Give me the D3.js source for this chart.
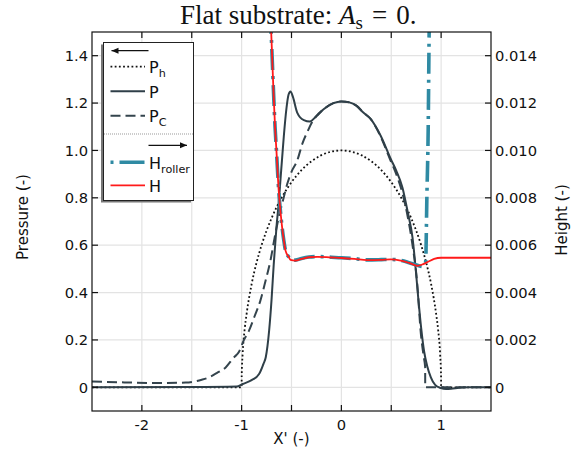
<!DOCTYPE html>
<html>
<head>
<meta charset="utf-8">
<script src="https://cdn.jsdelivr.net/npm/d3@7"></script>
<style>
  body { margin: 0; background: #fff; }
  svg { display: block; }
  text { font-family: "DejaVu Sans", sans-serif; }
</style>
</head>
<body>
<div id="chart"></div>
<script>
// ----- data -----

// P_h (dotted, hertzian pressure)
const phX = [-2.5, -1.0, -0.9995, -0.99, -0.97, -0.95, -0.9, -0.85, -0.8, -0.7, -0.6, -0.5, -0.4, -0.3, -0.2, -0.1, 0,
  0.1, 0.2, 0.3, 0.4, 0.5, 0.6, 0.7, 0.8, 0.85, 0.9, 0.95, 0.97, 0.99, 0.9995, 1.0, 1.5]
const phY = [0, 0, 0.045, 0.14, 0.243, 0.31, 0.435, 0.527, 0.6, 0.714, 0.8, 0.866, 0.917, 0.954, 0.98, 0.995, 1.0,
  0.995, 0.98, 0.954, 0.917, 0.866, 0.8, 0.714, 0.6, 0.527, 0.435, 0.31, 0.243, 0.14, 0.045, 0, 0]

// P (solid)
const pX = [-2.5, -1.5, -1.05, -0.99, -0.9, -0.825, -0.78, -0.758, -0.724, -0.7, -0.678, -0.65, -0.628, -0.61, -0.59,
  -0.577, -0.55, -0.53, -0.51, -0.485, -0.443, -0.376, -0.316, -0.25, -0.175, -0.08, 0, 0.08, 0.15, 0.22, 0.293,
  0.394, 0.495, 0.55, 0.612, 0.665, 0.713, 0.745, 0.77, 0.8, 0.83, 0.86, 0.897, 0.94, 0.997, 1.05, 1.1, 1.18, 1.27, 1.5]
const pY = [0, 0.001, 0.003, 0.014, 0.03, 0.056, 0.1, 0.127, 0.24, 0.37, 0.52, 0.68, 0.78, 0.88, 0.99,
  1.06, 1.18, 1.235, 1.249, 1.225, 1.16, 1.128, 1.122, 1.145, 1.175, 1.2, 1.207, 1.203, 1.189, 1.16, 1.133,
  1.062, 0.964, 0.915, 0.844, 0.74, 0.633, 0.5, 0.38, 0.25, 0.15, 0.09, 0.042, 0.01, -0.003, -0.007, -0.006, -0.002, 0, 0]

// P_C (dashed)
const pcX = [-2.5, -2.2, -1.8, -1.56, -1.4, -1.327, -1.25, -1.16, -1.08, -1.026, -0.98, -0.925, -0.87, -0.812, -0.76,
  -0.711, -0.67, -0.628, -0.585, -0.543, -0.5, -0.443, -0.39, -0.336, -0.3, -0.25, -0.175, -0.08, 0, 0.08, 0.15,
  0.22, 0.293, 0.394, 0.495, 0.55, 0.612, 0.665, 0.713, 0.76, 0.797, 0.825, 0.84, 0.8405, 1.0, 1.5]
const pcY = [0.025, 0.021, 0.018, 0.02, 0.032, 0.042, 0.06, 0.084, 0.125, 0.15, 0.197, 0.24, 0.3, 0.366, 0.45,
  0.535, 0.63, 0.717, 0.79, 0.858, 0.91, 0.957, 1.03, 1.083, 1.115, 1.145, 1.175, 1.2, 1.207, 1.203, 1.189,
  1.16, 1.133, 1.058, 0.955, 0.9, 0.82, 0.72, 0.6, 0.44, 0.225, 0.13, 0.085, 0, 0, 0]

// H (red, right axis)
const hX = [-0.715, -0.704, -0.69, -0.678, -0.665, -0.651, -0.628, -0.61, -0.594, -0.577, -0.56, -0.527, -0.51, -0.46,
  -0.4, -0.326, -0.242, -0.1, 0, 0.13, 0.26, 0.4, 0.495, 0.595, 0.68, 0.763, 0.82, 0.87, 0.93, 1.0, 1.5]
const hY = [0.0158, 0.01505, 0.0135, 0.01224, 0.011, 0.00999, 0.0083, 0.0074, 0.00675, 0.0062, 0.00577, 0.0055, 0.00538, 0.00535,
  0.00542, 0.00549, 0.00551, 0.00548, 0.00546, 0.00542, 0.00537, 0.00538, 0.0054, 0.00535, 0.00525, 0.00513, 0.0052, 0.0053, 0.00542, 0.00547, 0.00547]

// H_roller (teal dash-dot, right axis)
const hrX = [-0.716, -0.705, -0.69, -0.678, -0.665, -0.651, -0.628, -0.61, -0.594, -0.577, -0.56, -0.527, -0.51, -0.46,
  -0.4, -0.326, -0.242, -0.1, 0, 0.13, 0.26, 0.4, 0.495, 0.595, 0.68, 0.763, 0.82, 0.845, 0.857, 0.87, 0.88, 0.89]
const hrY = [0.0158, 0.01505, 0.0135, 0.01224, 0.011, 0.00999, 0.0083, 0.0074, 0.00675, 0.0062, 0.00577, 0.0055, 0.0054, 0.00537,
  0.00544, 0.0055, 0.00552, 0.00549, 0.00547, 0.00543, 0.00538, 0.00539, 0.0054, 0.00536, 0.00526, 0.00515, 0.0051, 0.0053, 0.008, 0.0108, 0.015, 0.0175]

// ticks
const xTicks = [-2, -1, 0, 1]
const xMinor = [-2.5, -2, -1.5, -1, -0.5, 0, 0.5, 1, 1.5]
const pTicks = [0, 0.2, 0.4, 0.6, 0.8, 1.0, 1.2, 1.4]
const pTickLabels = ['0', '0.2', '0.4', '0.6', '0.8', '1.0', '1.2', '1.4']
const hTicks = [0, 0.002, 0.004, 0.006, 0.008, 0.010, 0.012, 0.014]
const hTickLabels = ['0', '0.002', '0.004', '0.006', '0.008', '0.010', '0.012', '0.014']

// ----- layout -----
const width = 576
const height = 452
const plot = { left: 92, right: 491, top: 32, bottom: 411 }

const xScale = d3.scaleLinear().domain([-2.5, 1.5]).range([plot.left, plot.right])
const yScale = d3.scaleLinear().domain([-0.1, 1.5]).range([plot.bottom, plot.top])
const hScale = d3.scaleLinear().domain([-0.001, 0.015]).range([plot.bottom, plot.top])

const svg = d3.select('#chart').append('svg').attr('width', width).attr('height', height)

svg.append('defs').append('clipPath').attr('id', 'clip')
  .append('rect')
  .attr('x', plot.left).attr('y', plot.top)
  .attr('width', plot.right - plot.left).attr('height', plot.bottom - plot.top)

// grid
const grid = svg.append('g').attr('class', 'grid')
grid.selectAll('.vg').data(xMinor.slice(1, -1)).enter().append('line')
  .attr('x1', d => xScale(d)).attr('x2', d => xScale(d))
  .attr('y1', plot.top).attr('y2', plot.bottom)
  .attr('stroke', '#e3e3e3').attr('stroke-width', 1.2)
grid.selectAll('.hg').data(pTicks).enter().append('line')
  .attr('x1', plot.left).attr('x2', plot.right)
  .attr('y1', d => yScale(d)).attr('y2', d => yScale(d))
  .attr('stroke', '#e3e3e3').attr('stroke-width', 1.2)

// curves
const zip = (xs, ys) => xs.map((x, i) => [x, ys[i]])
const curve = d3.curveMonotoneX
const lineP = d3.line().x(d => xScale(d[0])).y(d => yScale(d[1])).curve(curve)
const lineH = d3.line().x(d => xScale(d[0])).y(d => hScale(d[1])).curve(curve)

const plotG = svg.append('g').attr('clip-path', 'url(#clip)')

plotG.append('path').attr('d', lineP(zip(phX, phY)))
  .attr('fill', 'none').attr('stroke', '#111').attr('stroke-width', 1.8)
  .attr('stroke-dasharray', '1.8 2.4')

plotG.append('path').attr('d', lineP(zip(pcX, pcY)))
  .attr('fill', 'none').attr('stroke', '#34444d').attr('stroke-width', 2)
  .attr('stroke-dasharray', '10 5')

plotG.append('path').attr('d', lineP(zip(pX, pY)))
  .attr('fill', 'none').attr('stroke', '#2f3f48').attr('stroke-width', 2)

plotG.append('path').attr('d', lineH(zip(hrX, hrY)))
  .attr('fill', 'none').attr('stroke', '#2f8aa3').attr('stroke-width', 3.6)
  .attr('stroke-dasharray', '21 6 3 6')

plotG.append('path').attr('d', lineH(zip(hX, hY)))
  .attr('fill', 'none').attr('stroke', '#ff1a1a').attr('stroke-width', 1.8)

// frame and ticks
const axes = svg.append('g').attr('stroke', '#111').attr('stroke-width', 1.2)
axes.append('rect')
  .attr('x', plot.left).attr('y', plot.top)
  .attr('width', plot.right - plot.left).attr('height', plot.bottom - plot.top)
  .attr('fill', 'none')
axes.selectAll('.bt').data(xMinor.slice(1, -1)).enter().append('line')
  .attr('x1', d => xScale(d)).attr('x2', d => xScale(d))
  .attr('y1', plot.bottom).attr('y2', plot.bottom - 6)
axes.selectAll('.tt').data(xMinor.slice(1, -1)).enter().append('line')
  .attr('x1', d => xScale(d)).attr('x2', d => xScale(d))
  .attr('y1', plot.top).attr('y2', plot.top + 6)
axes.selectAll('.lt').data(pTicks).enter().append('line')
  .attr('x1', plot.left).attr('x2', plot.left + 6)
  .attr('y1', d => yScale(d)).attr('y2', d => yScale(d))
axes.selectAll('.rt').data(hTicks).enter().append('line')
  .attr('x1', plot.right).attr('x2', plot.right - 6)
  .attr('y1', d => hScale(d)).attr('y2', d => hScale(d))

// tick labels
const fs = 14.7
svg.append('g').selectAll('text').data(xTicks).enter().append('text')
  .attr('x', d => xScale(d)).attr('y', plot.bottom + 19)
  .attr('text-anchor', 'middle').attr('font-size', fs).attr('fill', '#111')
  .text(d => String(d))
svg.append('g').selectAll('text').data(pTicks).enter().append('text')
  .attr('x', plot.left - 4).attr('y', d => yScale(d) + 5.3)
  .attr('text-anchor', 'end').attr('font-size', fs).attr('fill', '#111')
  .text((d, i) => pTickLabels[i])
svg.append('g').selectAll('text').data(hTicks).enter().append('text')
  .attr('x', plot.right + 4).attr('y', d => hScale(d) + 5.3)
  .attr('text-anchor', 'start').attr('font-size', fs).attr('fill', '#111')
  .text((d, i) => hTickLabels[i])

// axis titles
svg.append('text').attr('x', (plot.left + plot.right) / 2).attr('y', 444)
  .attr('text-anchor', 'middle').attr('font-size', 15).attr('fill', '#111').text("X' (-)")
svg.append('text').attr('transform', 'translate(28,217) rotate(-90)')
  .attr('text-anchor', 'middle').attr('font-size', 15).attr('fill', '#111').text('Pressure (-)')
svg.append('text').attr('transform', 'translate(567,220) rotate(-90)')
  .attr('text-anchor', 'middle').attr('font-size', 15).attr('fill', '#111').text('Height (-)')

// title
const title = svg.append('text').attr('x', 180).attr('y', 24)
  .attr('font-size', 27).attr('fill', '#111')
  .style('font-family', '"Liberation Serif", "Times New Roman", serif')
title.append('tspan').text('Flat substrate: ')
title.append('tspan').attr('font-style', 'italic').text('A')
title.append('tspan').attr('font-size', 19).attr('dy', 5).text('s')
title.append('tspan').attr('dy', -5).text('\u2004=\u20040.')

// legend
const lg = svg.append('g').attr('class', 'legend')
lg.append('rect').attr('x', 101).attr('y', 44.5).attr('width', 90).attr('height', 158).attr('fill', '#777')
lg.append('rect').attr('x', 103.5).attr('y', 42.5).attr('width', 90).attr('height', 158)
  .attr('fill', '#fff').attr('stroke', '#222').attr('stroke-width', 1)

function arrow (x1, x2, y, dir) {
  lg.append('line').attr('x1', x1).attr('x2', x2).attr('y1', y).attr('y2', y)
    .attr('stroke', '#111').attr('stroke-width', 1.2)
  const tip = dir < 0 ? x1 : x2
  const back = tip - dir * 7
  lg.append('path').attr('d', `M${tip},${y} L${back},${y - 3} L${back},${y + 3} Z`).attr('fill', '#111')
}
arrow(111.5, 148.5, 50.7, -1)
arrow(148.5, 187, 145.3, 1)

lg.append('line').attr('x1', 104).attr('x2', 193).attr('y1', 134).attr('y2', 134)
  .attr('stroke', '#999').attr('stroke-width', 1).attr('stroke-dasharray', '1 1')

const legendItems = [
  { y: 66.7, main: 'P', sub: 'h', stroke: '#111', w: 1.8, dash: '1.8 2.4' },
  { y: 91.3, main: 'P', sub: '', stroke: '#2f3f48', w: 2, dash: null },
  { y: 115.7, main: 'P', sub: 'C', stroke: '#34444d', w: 2, dash: '10 5' },
  { y: 162.3, main: 'H', sub: 'roller', stroke: '#2f8aa3', w: 3.6, dash: '3 6 25 6' },
  { y: 185.3, main: 'H', sub: '', stroke: '#ff1a1a', w: 1.8, dash: null }
]
legendItems.forEach(item => {
  lg.append('line').attr('x1', 110.5).attr('x2', 145).attr('y1', item.y).attr('y2', item.y)
    .attr('stroke', item.stroke).attr('stroke-width', item.w)
    .attr('stroke-dasharray', item.dash)
  const t = lg.append('text').attr('x', 149).attr('y', item.y + 6.6)
    .attr('font-size', 16).attr('fill', '#111')
  t.append('tspan').text(item.main)
  if (item.sub) t.append('tspan').attr('font-size', 11.2).attr('dy', 3.6).text(item.sub)
})
</script>
</body>
</html>
